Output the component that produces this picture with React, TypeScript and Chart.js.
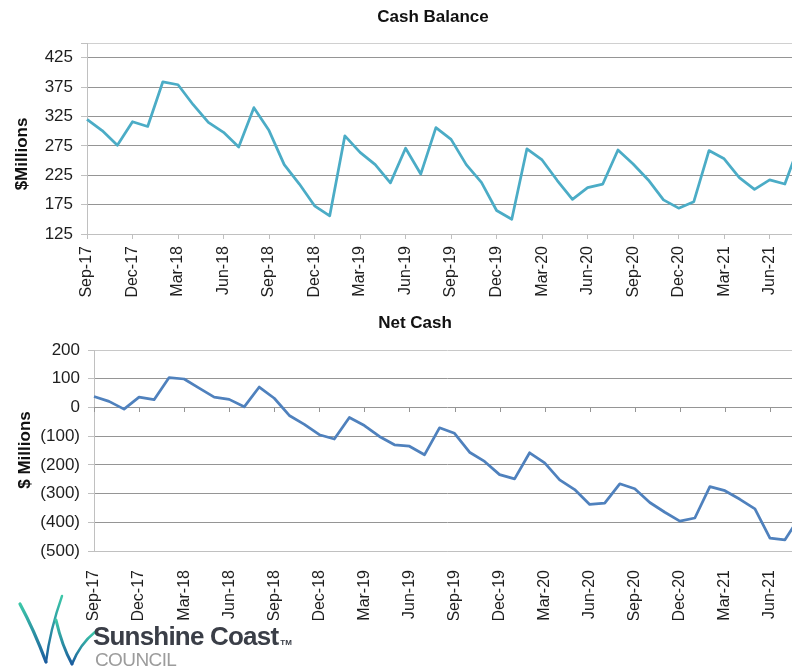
import React, { useEffect, useRef } from 'react';
import { Chart, registerables } from 'chart.js';

Chart.register(...registerables);

const MONTHS = [
  'Sep-17', 'Oct-17', 'Nov-17', 'Dec-17', 'Jan-18', 'Feb-18', 'Mar-18', 'Apr-18', 'May-18', 'Jun-18', 'Jul-18', 'Aug-18',
  'Sep-18', 'Oct-18', 'Nov-18', 'Dec-18', 'Jan-19', 'Feb-19', 'Mar-19', 'Apr-19', 'May-19', 'Jun-19', 'Jul-19', 'Aug-19',
  'Sep-19', 'Oct-19', 'Nov-19', 'Dec-19', 'Jan-20', 'Feb-20', 'Mar-20', 'Apr-20', 'May-20', 'Jun-20', 'Jul-20', 'Aug-20',
  'Sep-20', 'Oct-20', 'Nov-20', 'Dec-20', 'Jan-21', 'Feb-21', 'Mar-21', 'Apr-21', 'May-21', 'Jun-21', 'Jul-21', 'Aug-21',
];

const CASH_BALANCE = [
  320, 301, 276, 316, 308, 384, 379, 345, 315, 298, 273, 340,
  301, 243, 210, 173, 156, 292, 264, 243, 212, 271, 227, 306,
  286, 243, 213, 165, 150, 270, 251, 216, 184, 204, 210, 268,
  244, 217, 183, 169, 180, 267, 253, 221, 201, 217, 210, 280,
];

const NET_CASH = [
  38, 21, -6, 36, 27, 104, 99, 67, 36, 28, 2, 71,
  32, -28, -59, -95, -110, -35, -63, -101, -130, -135, -165, -71,
  -90, -156, -188, -234, -249, -158, -193, -252, -286, -338, -333, -266,
  -283, -331, -365, -396, -385, -276, -290, -320, -353, -455, -461, -380,
];

const CASH_TICKS = [125, 175, 225, 275, 325, 375, 425];
const CASH_MIN = 125;
const CASH_MAX = 450;
const NET_MIN = -500;
const NET_MAX = 200;
const NET_STEP = 100;

const FONT = '"Liberation Sans", Arial, Helvetica, sans-serif';
const GRID = '#959595';
const AXIS = '#c0c0c0';
const TEXT = '#1e1e1e';

Chart.defaults.font.family = FONT;

const decorPlugin = {
  id: 'decor',
  beforeDatasetsDraw(chart: any, _args: any, opts: any) {
    if (!opts.zeroTicks) return;
    const { ctx } = chart;
    const x = chart.scales.x;
    const y = chart.scales.y;
    const y0 = Math.round(y.getPixelForValue(0));
    ctx.save();
    ctx.strokeStyle = GRID;
    ctx.lineWidth = 1;
    ctx.beginPath();
    chart.data.labels.forEach((_l: any, i: number) => {
      if (i % 3 === 0) {
        const px = Math.round(x.getPixelForValue(i)) + 0.5;
        ctx.moveTo(px, y0);
        ctx.lineTo(px, y0 + 5);
      }
    });
    ctx.stroke();
    ctx.restore();
  },
  afterDraw(chart: any, _args: any, opts: any) {
    const { ctx } = chart;
    ctx.save();
    ctx.fillStyle = '#111111';
    ctx.textAlign = 'center';
    ctx.textBaseline = 'middle';
    ctx.font = `bold 17px ${FONT}`;
    ctx.fillText(opts.title, opts.titleX, opts.titleY);
    ctx.translate(opts.axisTitleX, opts.axisTitleY);
    ctx.rotate(-Math.PI / 2);
    ctx.font = `bold 17px ${FONT}`;
    ctx.fillText(opts.axisTitle, 0, 0);
    ctx.restore();
  },
};

function xLabel(_v: any, i: number) {
  return i % 3 === 0 ? MONTHS[i] : '';
}

function topConfig(): any {
  return {
    type: 'line',
    data: {
      labels: MONTHS,
      datasets: [
        {
          data: CASH_BALANCE,
          borderColor: '#4BACC6',
          borderWidth: 2.75,
          pointRadius: 0,
          tension: 0,
          fill: false,
          borderJoinStyle: 'round',
        },
      ],
    },
    plugins: [decorPlugin],
    options: {
      responsive: false,
      animation: false,
      events: [],
      layout: { padding: { top: 43, right: 12, left: 0, bottom: 0 } },
      plugins: {
        legend: { display: false },
        tooltip: { enabled: false },
        decor: {
          title: 'Cash Balance',
          titleX: 433,
          titleY: 17,
          axisTitle: '$Millions',
          axisTitleX: 22,
          axisTitleY: 154,
          zeroTicks: false,
        },
      },
      scales: {
        x: {
          offset: false,
          grid: {
            display: true,
            drawOnChartArea: false,
            drawTicks: true,
            tickLength: 5,
            color: (c: any) => (c.index % 3 === 0 ? AXIS : 'rgba(0,0,0,0)'),
            tickColor: (c: any) => (c.index % 3 === 0 ? AXIS : 'rgba(0,0,0,0)'),
          },
          border: { display: true, color: AXIS, width: 1 },
          ticks: {
            autoSkip: false,
            maxRotation: 90,
            minRotation: 90,
            padding: 7,
            color: TEXT,
            font: { family: FONT, size: 16 },
            callback: xLabel,
          },
          afterFit: (s: any) => {
            s.height = 71;
            s.paddingLeft = 0;
            s.paddingRight = 0;
          },
        },
        y: {
          min: CASH_MIN,
          max: CASH_MAX,
          afterBuildTicks: (s: any) => {
            s.ticks = [...CASH_TICKS, CASH_MAX].map((v) => ({ value: v }));
          },
          grid: {
            color: (c: any) => (c.tick && c.tick.value === CASH_MAX ? '#d0d0d0' : c.tick && c.tick.value === CASH_MIN ? AXIS : GRID),
            tickColor: AXIS,
            tickLength: 6,
          },
          border: { display: true, color: AXIS, width: 1 },
          ticks: {
            padding: 8,
            color: TEXT,
            font: { family: FONT, size: 17 },
            callback: (v: any) => (v === CASH_MAX ? '' : String(v)),
          },
          afterFit: (s: any) => {
            s.width = 87;
          },
        },
      },
    },
  };
}

function bottomConfig(): any {
  return {
    type: 'line',
    data: {
      labels: MONTHS,
      datasets: [
        {
          data: NET_CASH,
          borderColor: '#4F81BD',
          borderWidth: 2.75,
          pointRadius: 0,
          tension: 0,
          fill: false,
          borderJoinStyle: 'round',
        },
      ],
    },
    plugins: [decorPlugin],
    options: {
      responsive: false,
      animation: false,
      events: [],
      layout: { padding: { top: 44, right: 12, left: 0, bottom: 0 } },
      plugins: {
        legend: { display: false },
        tooltip: { enabled: false },
        decor: {
          title: 'Net Cash',
          titleX: 415,
          titleY: 17,
          axisTitle: '$ Millions',
          axisTitleX: 25,
          axisTitleY: 144,
          zeroTicks: true,
        },
      },
      scales: {
        x: {
          offset: false,
          grid: { display: false },
          border: { display: true, color: AXIS, width: 1 },
          ticks: {
            autoSkip: false,
            maxRotation: 90,
            minRotation: 90,
            padding: 11,
            color: TEXT,
            font: { family: FONT, size: 16 },
            callback: xLabel,
          },
          afterFit: (s: any) => {
            s.height = 69;
            s.paddingLeft = 0;
            s.paddingRight = 0;
          },
        },
        y: {
          min: NET_MIN,
          max: NET_MAX,
          grid: {
            color: (c: any) => (c.tick && (c.tick.value === NET_MAX || c.tick.value === NET_MIN) ? '#c8c8c8' : GRID),
            tickColor: AXIS,
            tickLength: 6,
          },
          border: { display: true, color: AXIS, width: 1 },
          ticks: {
            stepSize: NET_STEP,
            padding: 8,
            color: TEXT,
            font: { family: FONT, size: 17 },
            callback: (v: any) => (v < 0 ? `(${-v})` : String(v)),
          },
          afterFit: (s: any) => {
            s.width = 94;
          },
        },
      },
    },
  };
}

export default function App() {
  const topRef = useRef<HTMLCanvasElement | null>(null);
  const botRef = useRef<HTMLCanvasElement | null>(null);

  useEffect(() => {
    const c1 = new Chart(topRef.current as HTMLCanvasElement, topConfig());
    const c2 = new Chart(botRef.current as HTMLCanvasElement, bottomConfig());
    return () => {
      c1.destroy();
      c2.destroy();
    };
  }, []);

  return (
    <div
      style={{
        position: 'absolute',
        left: 0,
        top: 0,
        width: 792,
        height: 670,
        overflow: 'hidden',
        background: '#ffffff',
      }}
    >
      <canvas ref={topRef} width={812} height={305} style={{ position: 'absolute', left: 0, top: 0 }} />
      <canvas ref={botRef} width={812} height={314} style={{ position: 'absolute', left: 0, top: 306 }} />
      <svg width={110} height={80} style={{ position: 'absolute', left: 0, top: 590 }}>
        <defs>
          <linearGradient id="swoosh" x1="0" y1="0" x2="0" y2="1">
            <stop offset="0" stopColor="#3cc7a8" />
            <stop offset="1" stopColor="#1b5c9e" />
          </linearGradient>
        </defs>
        <path d="M20 14 Q34 40 46 72" fill="none" stroke="url(#swoosh)" strokeWidth={3.2} strokeLinecap="round" />
        <path d="M46 72 Q50 40 62 6" fill="none" stroke="url(#swoosh)" strokeWidth={2.4} strokeLinecap="round" />
        <path d="M56 30 Q62 56 72 74" fill="none" stroke="url(#swoosh)" strokeWidth={3} strokeLinecap="round" />
        <path d="M72 74 Q80 54 95 42" fill="none" stroke="url(#swoosh)" strokeWidth={2.6} strokeLinecap="round" />
      </svg>
      <div
        style={{
          position: 'absolute',
          left: 93,
          top: 623,
          font: `bold 26px ${FONT}`,
          lineHeight: '26px',
          letterSpacing: '-0.8px',
          color: '#3a3e47',
          whiteSpace: 'nowrap',
        }}
      >
        Sunshine Coast
        <span style={{ fontSize: 8, letterSpacing: 0, marginLeft: 2 }}>TM</span>
      </div>
      <div
        style={{
          position: 'absolute',
          left: 95,
          top: 650,
          font: `19px ${FONT}`,
          lineHeight: '20px',
          letterSpacing: '-0.6px',
          color: '#9c9c9c',
          whiteSpace: 'nowrap',
        }}
      >
        COUNCIL
      </div>
    </div>
  );
}
